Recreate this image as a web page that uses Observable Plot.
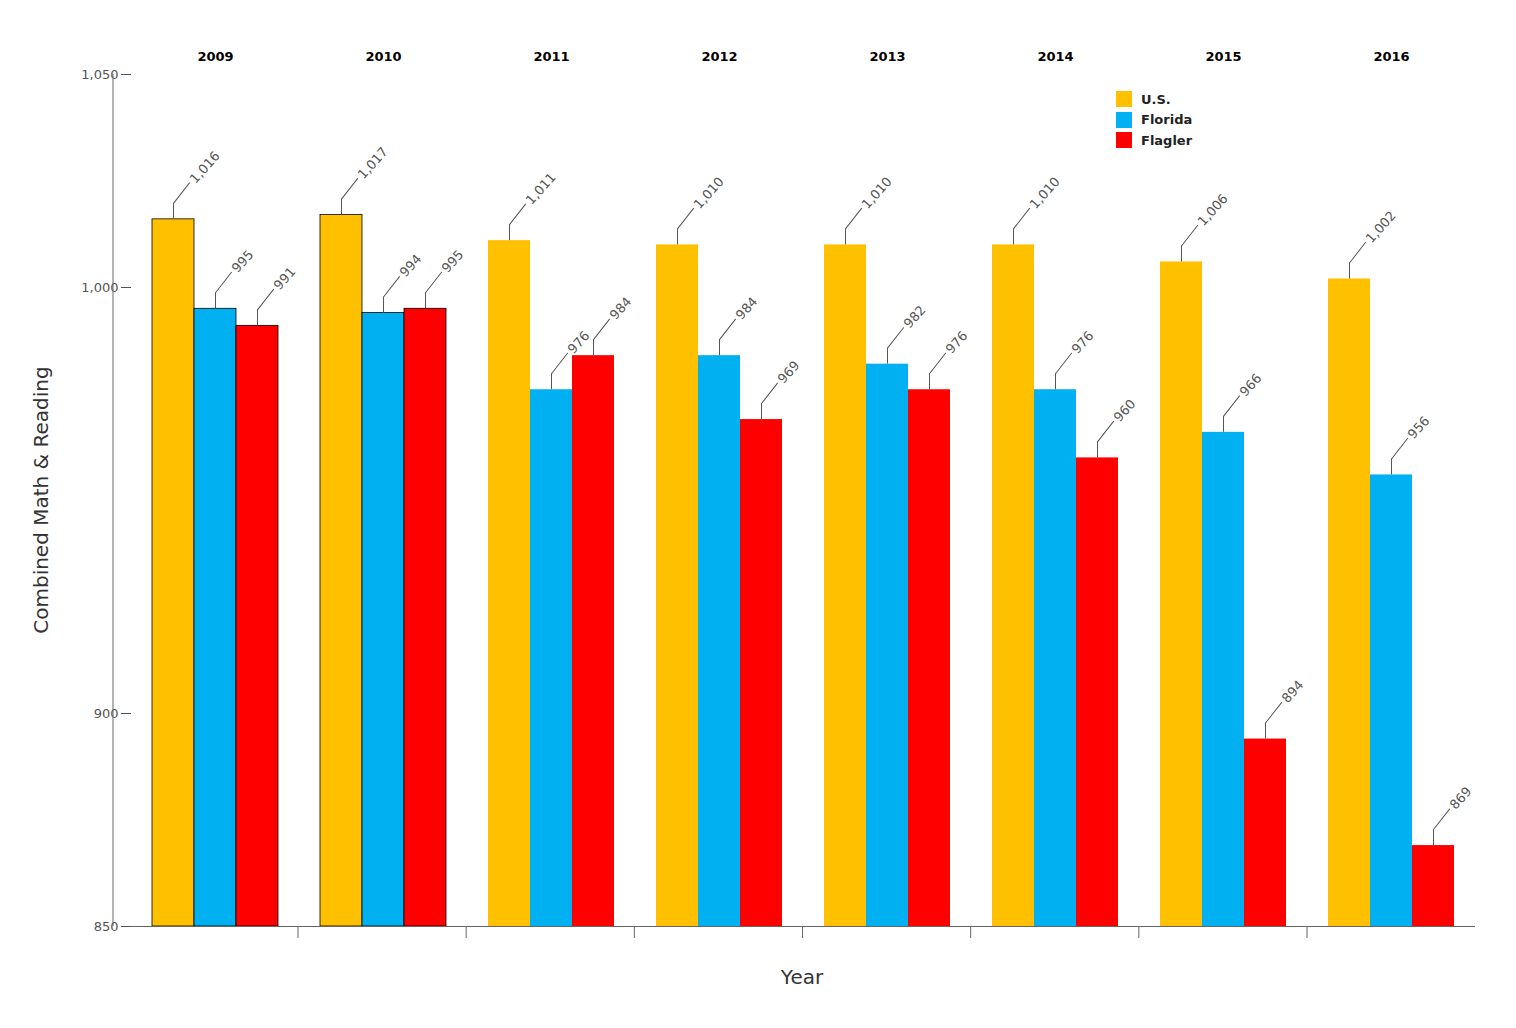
<!DOCTYPE html>
<html><head><meta charset="utf-8">
<script src="https://cdn.jsdelivr.net/npm/d3@7"></script>
<script src="https://cdn.jsdelivr.net/npm/@observablehq/plot@0.6"></script>
<style>
body{margin:0;background:#fff;font-family:"DejaVu Sans",Verdana,sans-serif;}
#wrap{position:relative;width:1516px;height:1028px;}
#legend{position:absolute;left:1116px;top:89px;font-size:13px;font-weight:bold;color:#222;}
#legend div{display:flex;align-items:center;height:20.5px;}
#legend span{display:inline-block;width:16px;height:16px;margin-right:9px;}
</style></head>
<body><div id="wrap"><div id="legend"></div></div>
<script>
const years = ["2009","2010","2011","2012","2013","2014","2015","2016"];
const seriesNames = ["U.S.","Florida","Flagler"];
const usValues = [1016,1017,1011,1010,1010,1010,1006,1002];
const floridaValues = [995,994,976,984,982,976,966,956];
const flaglerValues = [991,995,984,969,976,960,894,869];
const colors = ["#FFC000","#00B0F0","#FF0000"];
const yTicks = [850,900,1000,1050];

const data = [];
[usValues, floridaValues, flaglerValues].forEach((vals, si) => {
  vals.forEach((v, yi) => data.push({year: years[yi], series: seriesNames[si], value: v, outlined: yi < 2}));
});

const chart = Plot.plot({
  width: 1516, height: 1028,
  marginLeft: 113, marginRight: 24, marginTop: 74, marginBottom: 102,
  style: {fontFamily: '"DejaVu Sans", Verdana, sans-serif', background: "#fff"},
  fx: {domain: years, paddingInner: 0, paddingOuter: 0.1, label: "Year", labelAnchor: "center"},
  x: {domain: seriesNames, paddingInner: 0, paddingOuter: 0.48, axis: null},
  y: {domain: [850,1050], ticks: yTicks, tickFormat: d3.format(","), label: "Combined Math & Reading"},
  color: {domain: seriesNames, range: colors},
  marks: [
    Plot.axisY({ticks: yTicks, tickFormat: d3.format(","), fontSize: 13, color: "#555", stroke: "#555", tickSize: 10, label: null}),
    Plot.axisFx({fontSize: 13, fontWeight: "bold", tickSize: 0, tickPadding: 14, label: null}),
    Plot.barY(data, {fx: "year", x: "series", y1: 850, y2: "value", fill: "series",
      stroke: d => d.outlined ? "#000" : "none", strokeWidth: 0.8}),
    Plot.ruleY([850], {stroke: "#666"}),
    Plot.ruleX(data, {fx: "year", x: "series", y1: "value", y2: d => d.value + 3.7, stroke: "#555", strokeWidth: 1}),
    Plot.vector(data, {fx: "year", x: "series", y: "value", dy: -16, length: 26, rotate: 38, anchor: "start",
      stroke: "#555", strokeWidth: 1,
      shape: {draw(ctx, l) { ctx.moveTo(0,0); ctx.lineTo(0,-l); }}}),
    Plot.text(data, {fx: "year", x: "series", y: "value", text: d => d3.format(",")(d.value),
      dx: 19, dy: -38, rotate: -48, textAnchor: "start", fontSize: 13, fill: "#555"})
  ]
});
const wrap = document.getElementById("wrap");
wrap.insertBefore(chart, wrap.firstChild);
const svg = d3.select(chart);
svg.append("line").attr("x1",113).attr("x2",113).attr("y1",74).attr("y2",926).attr("stroke","#666");
const fx = chart.scale("fx");
const bw = (1492-113-2*0)/ (years.length + 0.2);
// separator ticks between groups
const start = 113 + bw*0.1;
for (let i = 1; i < years.length; i++) {
  const xp = start + i*bw;
  svg.append("line").attr("x1",xp).attr("x2",xp).attr("y1",926).attr("y2",938).attr("stroke","#666");
}
svg.append("text").attr("x", 802).attr("y", 984).attr("text-anchor","middle").attr("font-size",20).attr("fill","#333").text("Year");
svg.append("text").attr("transform","translate(48,500) rotate(-90)").attr("text-anchor","middle").attr("font-size",20).attr("fill","#333").text("Combined Math & Reading");
const lg = document.getElementById("legend");
seriesNames.forEach((s,i)=>{const d=document.createElement("div");d.innerHTML=`<span style="background:${colors[i]}"></span>${s}`;lg.appendChild(d);});
</script></body></html>
